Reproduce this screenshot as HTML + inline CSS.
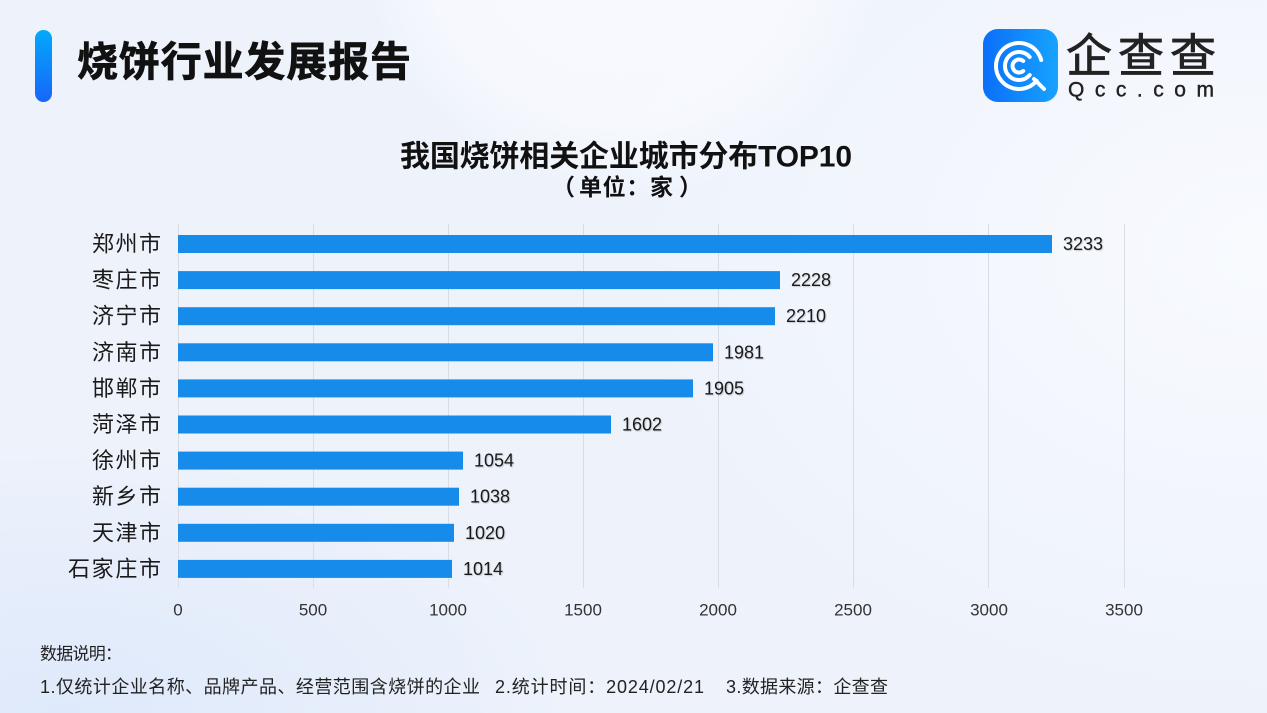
<!DOCTYPE html>
<html>
<head>
<meta charset="utf-8">
<style>
html,body{margin:0;padding:0;}
body{width:1267px;height:713px;overflow:hidden;
background:
 radial-gradient(circle at 620px -70px, rgba(250,251,255,0.85) 0, rgba(250,251,255,0.7) 190px, rgba(250,251,255,0) 270px),
 radial-gradient(ellipse 700px 500px at 100% 35%, rgba(248,250,254,1) 0, rgba(248,250,254,0) 100%),
 radial-gradient(ellipse 500px 260px at 5% 100%, rgba(222,233,251,1) 0, rgba(222,233,251,0) 100%),
 #edf2fb;
font-family:"Liberation Sans","Noto Sans CJK SC",sans-serif;}
svg{position:absolute;left:0;top:0;}
text{font-family:"Liberation Sans","Noto Sans CJK SC",sans-serif;}
</style>
</head>
<body>
<svg width="1267" height="713" viewBox="0 0 1267 713" xmlns="http://www.w3.org/2000/svg">
<defs>
<linearGradient id="pill" x1="0" y1="0" x2="0" y2="1">
<stop offset="0" stop-color="#03a9fb"/>
<stop offset="1" stop-color="#1766fa"/>
</linearGradient>
<linearGradient id="logo" x1="0" y1="0" x2="1" y2="0">
<stop offset="0" stop-color="#0a6ff9"/>
<stop offset="1" stop-color="#17a3ff"/>
</linearGradient>
</defs>

<!-- header -->
<rect x="35" y="30" width="17" height="72" rx="8.5" fill="url(#pill)"/>
<text x="77" y="62" font-size="41" font-weight="bold" fill="#111" stroke="#111" stroke-width="0.7" dominant-baseline="central" textLength="334" lengthAdjust="spacing">烧饼行业发展报告</text>

<!-- logo -->
<rect x="983" y="29" width="75" height="73" rx="15" fill="url(#logo)"/>
<g fill="none" stroke="#fff" stroke-linecap="round">
<path d="M1041.2 60.0 A23 23 0 1 0 1036.6 80.8" stroke-width="4"/>
<path d="M1034 79 L1044 89" stroke-width="4"/>
<path d="M1029.7 57.0 A14 14 0 1 0 1029.7 75.0" stroke-width="4"/>
<path d="M1023.2 61.0 A6.5 6.5 0 1 0 1023.2 71.0" stroke-width="4"/>
</g>
<text x="1066" y="56" font-size="46" fill="#222" stroke="#222" stroke-width="0.8" dominant-baseline="central" textLength="150" lengthAdjust="spacing">企查查</text>
<text x="1068" y="90" font-size="21" fill="#222" stroke="#222" stroke-width="0.4" dominant-baseline="central" textLength="146" lengthAdjust="spacing">Qcc.com</text>

<!-- chart title -->
<text x="400" y="157" font-size="30" font-weight="bold" fill="#111" dominant-baseline="central" textLength="452" lengthAdjust="spacing">我国烧饼相关企业城市分布TOP10</text>
<text x="552" y="187" font-size="23" font-weight="bold" fill="#111" dominant-baseline="central">（</text>
<text x="579" y="187" font-size="23" font-weight="bold" fill="#111" dominant-baseline="central" textLength="94" lengthAdjust="spacing">单位：家</text>
<text x="679" y="187" font-size="23" font-weight="bold" fill="#111" dominant-baseline="central">）</text>

<!-- gridlines -->
<g stroke="#dadde3" stroke-width="1">
<line x1="178.5" y1="224" x2="178.5" y2="588"/>
<line x1="313.5" y1="224" x2="313.5" y2="588"/>
<line x1="448.5" y1="224" x2="448.5" y2="588"/>
<line x1="583.5" y1="224" x2="583.5" y2="588"/>
<line x1="718.5" y1="224" x2="718.5" y2="588"/>
<line x1="853.5" y1="224" x2="853.5" y2="588"/>
<line x1="988.5" y1="224" x2="988.5" y2="588"/>
<line x1="1124.5" y1="224" x2="1124.5" y2="588"/>
</g>

<!-- bars -->
<g fill="#178bea">
<rect x="178" y="235" width="874" height="18"/>
<rect x="178" y="271.1" width="602" height="18"/>
<rect x="178" y="307.2" width="597" height="18"/>
<rect x="178" y="343.3" width="535" height="18"/>
<rect x="178" y="379.4" width="515" height="18"/>
<rect x="178" y="415.5" width="433" height="18"/>
<rect x="178" y="451.6" width="285" height="18"/>
<rect x="178" y="487.7" width="281" height="18"/>
<rect x="178" y="523.8" width="276" height="18"/>
<rect x="178" y="559.9" width="274" height="18"/>
</g>

<!-- y labels -->
<g font-size="22" fill="#1a1a1a">
<text x="92" y="244" dominant-baseline="central" textLength="69" lengthAdjust="spacing">郑州市</text>
<text x="92" y="280.1" dominant-baseline="central" textLength="69" lengthAdjust="spacing">枣庄市</text>
<text x="92" y="316.2" dominant-baseline="central" textLength="69" lengthAdjust="spacing">济宁市</text>
<text x="92" y="352.3" dominant-baseline="central" textLength="69" lengthAdjust="spacing">济南市</text>
<text x="92" y="388.4" dominant-baseline="central" textLength="69" lengthAdjust="spacing">邯郸市</text>
<text x="92" y="424.5" dominant-baseline="central" textLength="69" lengthAdjust="spacing">菏泽市</text>
<text x="92" y="460.6" dominant-baseline="central" textLength="69" lengthAdjust="spacing">徐州市</text>
<text x="92" y="496.7" dominant-baseline="central" textLength="69" lengthAdjust="spacing">新乡市</text>
<text x="92" y="532.8" dominant-baseline="central" textLength="69" lengthAdjust="spacing">天津市</text>
<text x="68" y="568.9" dominant-baseline="central" textLength="93" lengthAdjust="spacing">石家庄市</text>
</g>

<!-- value labels -->
<g font-size="18" fill="#1a1a1a" style="text-shadow:1px 1px 1px rgba(0,0,0,0.18)">
<text x="1063" y="244" dominant-baseline="central">3233</text>
<text x="791" y="280.1" dominant-baseline="central">2228</text>
<text x="786" y="316.2" dominant-baseline="central">2210</text>
<text x="724" y="352.3" dominant-baseline="central">1981</text>
<text x="704" y="388.4" dominant-baseline="central">1905</text>
<text x="622" y="424.5" dominant-baseline="central">1602</text>
<text x="474" y="460.6" dominant-baseline="central">1054</text>
<text x="470" y="496.7" dominant-baseline="central">1038</text>
<text x="465" y="532.8" dominant-baseline="central">1020</text>
<text x="463" y="568.9" dominant-baseline="central">1014</text>
</g>

<!-- tick labels -->
<g font-size="17" fill="#333" text-anchor="middle">
<text x="178" y="610" dominant-baseline="central">0</text>
<text x="313" y="610" dominant-baseline="central">500</text>
<text x="448" y="610" dominant-baseline="central">1000</text>
<text x="583" y="610" dominant-baseline="central">1500</text>
<text x="718" y="610" dominant-baseline="central">2000</text>
<text x="853" y="610" dominant-baseline="central">2500</text>
<text x="989" y="610" dominant-baseline="central">3000</text>
<text x="1124" y="610" dominant-baseline="central">3500</text>
</g>

<!-- footer -->
<text x="40" y="654" font-size="17" fill="#222" dominant-baseline="central" textLength="82" lengthAdjust="spacing">数据说明：</text>
<text x="40" y="687" font-size="18" fill="#222" dominant-baseline="central" textLength="440" lengthAdjust="spacing">1.仅统计企业名称、品牌产品、经营范围含烧饼的企业</text>
<text x="495" y="687" font-size="18" fill="#222" dominant-baseline="central" textLength="209" lengthAdjust="spacing">2.统计时间：2024/02/21</text>
<text x="726" y="687" font-size="18" fill="#222" dominant-baseline="central" textLength="162" lengthAdjust="spacing">3.数据来源：企查查</text>
</svg>
</body>
</html>
